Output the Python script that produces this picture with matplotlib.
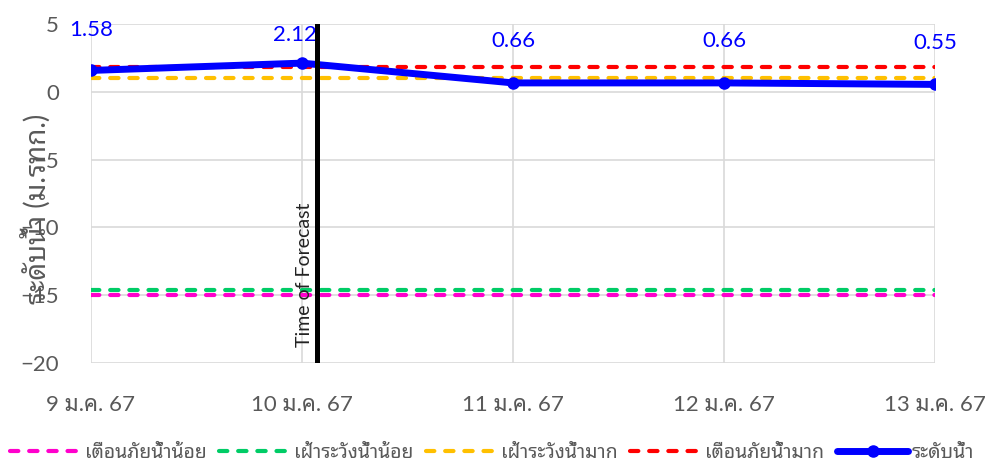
import matplotlib
matplotlib.use("Agg")
import matplotlib.pyplot as plt

# data
dates = ["9 ม.ค. 67", "10 ม.ค. 67", "11 ม.ค. 67", "12 ม.ค. 67", "13 ม.ค. 67"]
water_level = [1.58, 2.12, 0.66, 0.66, 0.55]
warn_low = [-15.0, -15.0, -15.0, -15.0, -15.0]
watch_low = [-14.6, -14.6, -14.6, -14.6, -14.6]
watch_high = [1.0, 1.0, 1.0, 1.0, 1.0]
warn_high = [1.8, 1.8, 1.8, 1.8, 1.8]
forecast_time = 1.07  # days after first date

FONT = ["Lato", "Noto Sans Thai Looped", "DejaVu Sans"]
plt.rcParams["font.family"] = FONT
GREY = "#595959"

x = list(range(len(dates)))

fig = plt.figure(figsize=(10.03, 4.63), dpi=100)
ax = fig.add_axes([0.0907, 0.216, 0.8415, 0.732])

dash_kw = dict(lw=3, linestyle=(0, (2.0, 2.6)), dash_capstyle="round")
ax.plot(x, warn_low, color="#ff00cc", label="เตือนภัยน้ำน้อย", **dash_kw)
ax.plot(x, watch_low, color="#00cc66", label="เฝ้าระวังน้ำน้อย", **dash_kw)
ax.plot(x, watch_high, color="#ffc000", label="เฝ้าระวังน้ำมาก", **dash_kw)
ax.plot(x, warn_high, color="#ff0000", label="เตือนภัยน้ำมาก", **dash_kw)
ax.plot(x, water_level, color="#0000ff", lw=5, marker="o", markersize=8,
        label="ระดับน้ำ", solid_capstyle="round", zorder=5)

# data labels
offsets = [(0, 29), (-5, 20), (0, 30), (0, 30), (0, 30)]
for xi, yi, off in zip(x, water_level, offsets):
    ax.annotate(f"{yi:.2f}", (xi, yi), xytext=off, textcoords="offset points",
                ha="center", va="center", color="#0000ff", fontsize=16)

# forecast marker
ax.axvline(forecast_time, color="black", lw=3.6, zorder=6)
ax.text(forecast_time - 0.018, -18.8, "Time of Forecast", rotation=90,
        ha="right", va="bottom", fontsize=14, color="#222222")

ax.set_xlim(0, 4)
ax.set_ylim(-20, 5)
ax.set_yticks([-20, -15, -10, -5, 0, 5])
ax.set_xticks(x)
ax.set_xticklabels(dates)
ax.grid(True, color="#d9d9d9", lw=1.2)
ax.set_axisbelow(True)
for s in ax.spines.values():
    s.set_visible(False)
ax.tick_params(length=0, labelsize=16, labelcolor=GREY)
ax.tick_params(axis="y", pad=23)
ax.tick_params(axis="x", pad=23)

fig.text(0.035, 0.548, "ระดับน้ำ (ม.รทก.)", rotation=90, ha="center", va="center",
         fontsize=20, color=GREY)

fig.legend(loc="lower left", bbox_to_anchor=(0.002, -0.012), ncol=5, frameon=False,
           fontsize=14, labelcolor=GREY, handlelength=3.7, handletextpad=0.15,
           columnspacing=0.65, borderaxespad=0.0)

fig.savefig("out.png")
